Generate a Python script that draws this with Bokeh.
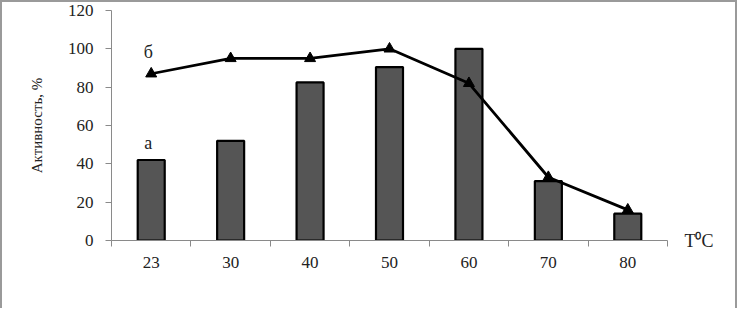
from bokeh.plotting import figure
from bokeh.models import (Range1d, FixedTicker, CustomJSTickFormatter, Label,
                          ColumnDataSource, LinearAxis)
from bokeh.embed import file_html
from bokeh.resources import INLINE

temps = ["23", "30", "40", "50", "60", "70", "80"]
bars_a = [42, 52, 82.5, 90.5, 100, 31, 14]
line_b = [87, 95, 95, 100, 82, 33, 16]
y_ticks = [0, 20, 40, 60, 80, 100, 120]
x_unit = "T⁰C"

FONT = "Liberation Serif"
AXIS_COL = "#8a8a8a"
TXT = "#222222"

n = len(temps)
xs = [i + 0.5 for i in range(n)]
src = ColumnDataSource(dict(x=xs, a=bars_a, b=line_b))

p = figure(width=737, height=308, output_backend="svg", toolbar_location=None,
           x_range=Range1d(0, n), y_range=Range1d(0, 120),
           min_border_left=109, min_border_right=72, min_border_top=8, min_border_bottom=70,
           styles={"border-top": "2px solid #9a9a9a", "border-left": "2px solid #9a9a9a",
                   "border-right": "2px solid #9a9a9a", "box-sizing": "border-box"})
p.outline_line_color = None
p.xgrid.grid_line_color = None
p.ygrid.grid_line_color = None

p.vbar(x="x", top="a", width=0.34, bottom=0, source=src,
       fill_color="#555555", line_color="black", line_width=2.2)
p.line(x="x", y="b", source=src, line_color="black", line_width=2.8)
p.scatter(x="x", y="b", source=src, marker="triangle", size=11,
          fill_color="black", line_color="black")

# x axis
xa = p.xaxis[0]
xa.ticker = FixedTicker(ticks=xs, minor_ticks=list(range(n + 1)))
xa.formatter = CustomJSTickFormatter(args=dict(labels=temps),
                                     code="return labels[Math.round(tick - 0.5)] || '';")
xa.axis_line_color = AXIS_COL
xa.major_tick_line_color = None
xa.major_tick_out = 0
xa.major_tick_in = 0
xa.minor_tick_line_color = AXIS_COL
xa.minor_tick_out = 6
xa.minor_tick_in = 0
xa.major_label_standoff = 10
xa.major_label_text_font = FONT
xa.major_label_text_font_size = "17px"
xa.major_label_text_color = TXT

# y axis
ya = p.yaxis[0]
ya.ticker = FixedTicker(ticks=y_ticks)
ya.axis_line_color = AXIS_COL
ya.major_tick_line_color = AXIS_COL
ya.major_tick_out = 6
ya.major_tick_in = 0
ya.minor_tick_line_color = None
ya.major_label_standoff = 12
ya.major_label_text_font = FONT
ya.major_label_text_font_size = "17px"
ya.major_label_text_color = TXT
ya.axis_label = "Активность, %"
ya.axis_label_text_font = FONT
ya.axis_label_text_font_size = "15px"
ya.axis_label_text_font_style = "normal"
ya.axis_label_text_color = TXT
ya.axis_label_standoff = 20

# unit label at the end of the x axis, via a bare right-hand axis
ra = LinearAxis(ticker=FixedTicker(ticks=[0]),
                formatter=CustomJSTickFormatter(args=dict(u=x_unit), code="return u;"))
ra.axis_line_color = None
ra.major_tick_line_color = None
ra.minor_tick_line_color = None
ra.major_tick_out = 0
ra.major_tick_in = 0
ra.major_label_standoff = 17
ra.major_label_text_font = FONT
ra.major_label_text_font_size = "18px"
ra.major_label_text_color = TXT
p.add_layout(ra, "right")

# series labels
p.add_layout(Label(x=xs[0], y=bars_a[0], y_offset=17, text="а", text_font=FONT,
                   text_font_size="18px", text_align="center", text_baseline="middle",
                   text_color=TXT, x_offset=-3))
p.add_layout(Label(x=xs[0], y=line_b[0], y_offset=22, text="б", text_font=FONT,
                   text_font_size="18px", text_align="center", text_baseline="middle",
                   text_color=TXT, x_offset=-3))

open("out.html", "w").write(file_html(p, INLINE))
